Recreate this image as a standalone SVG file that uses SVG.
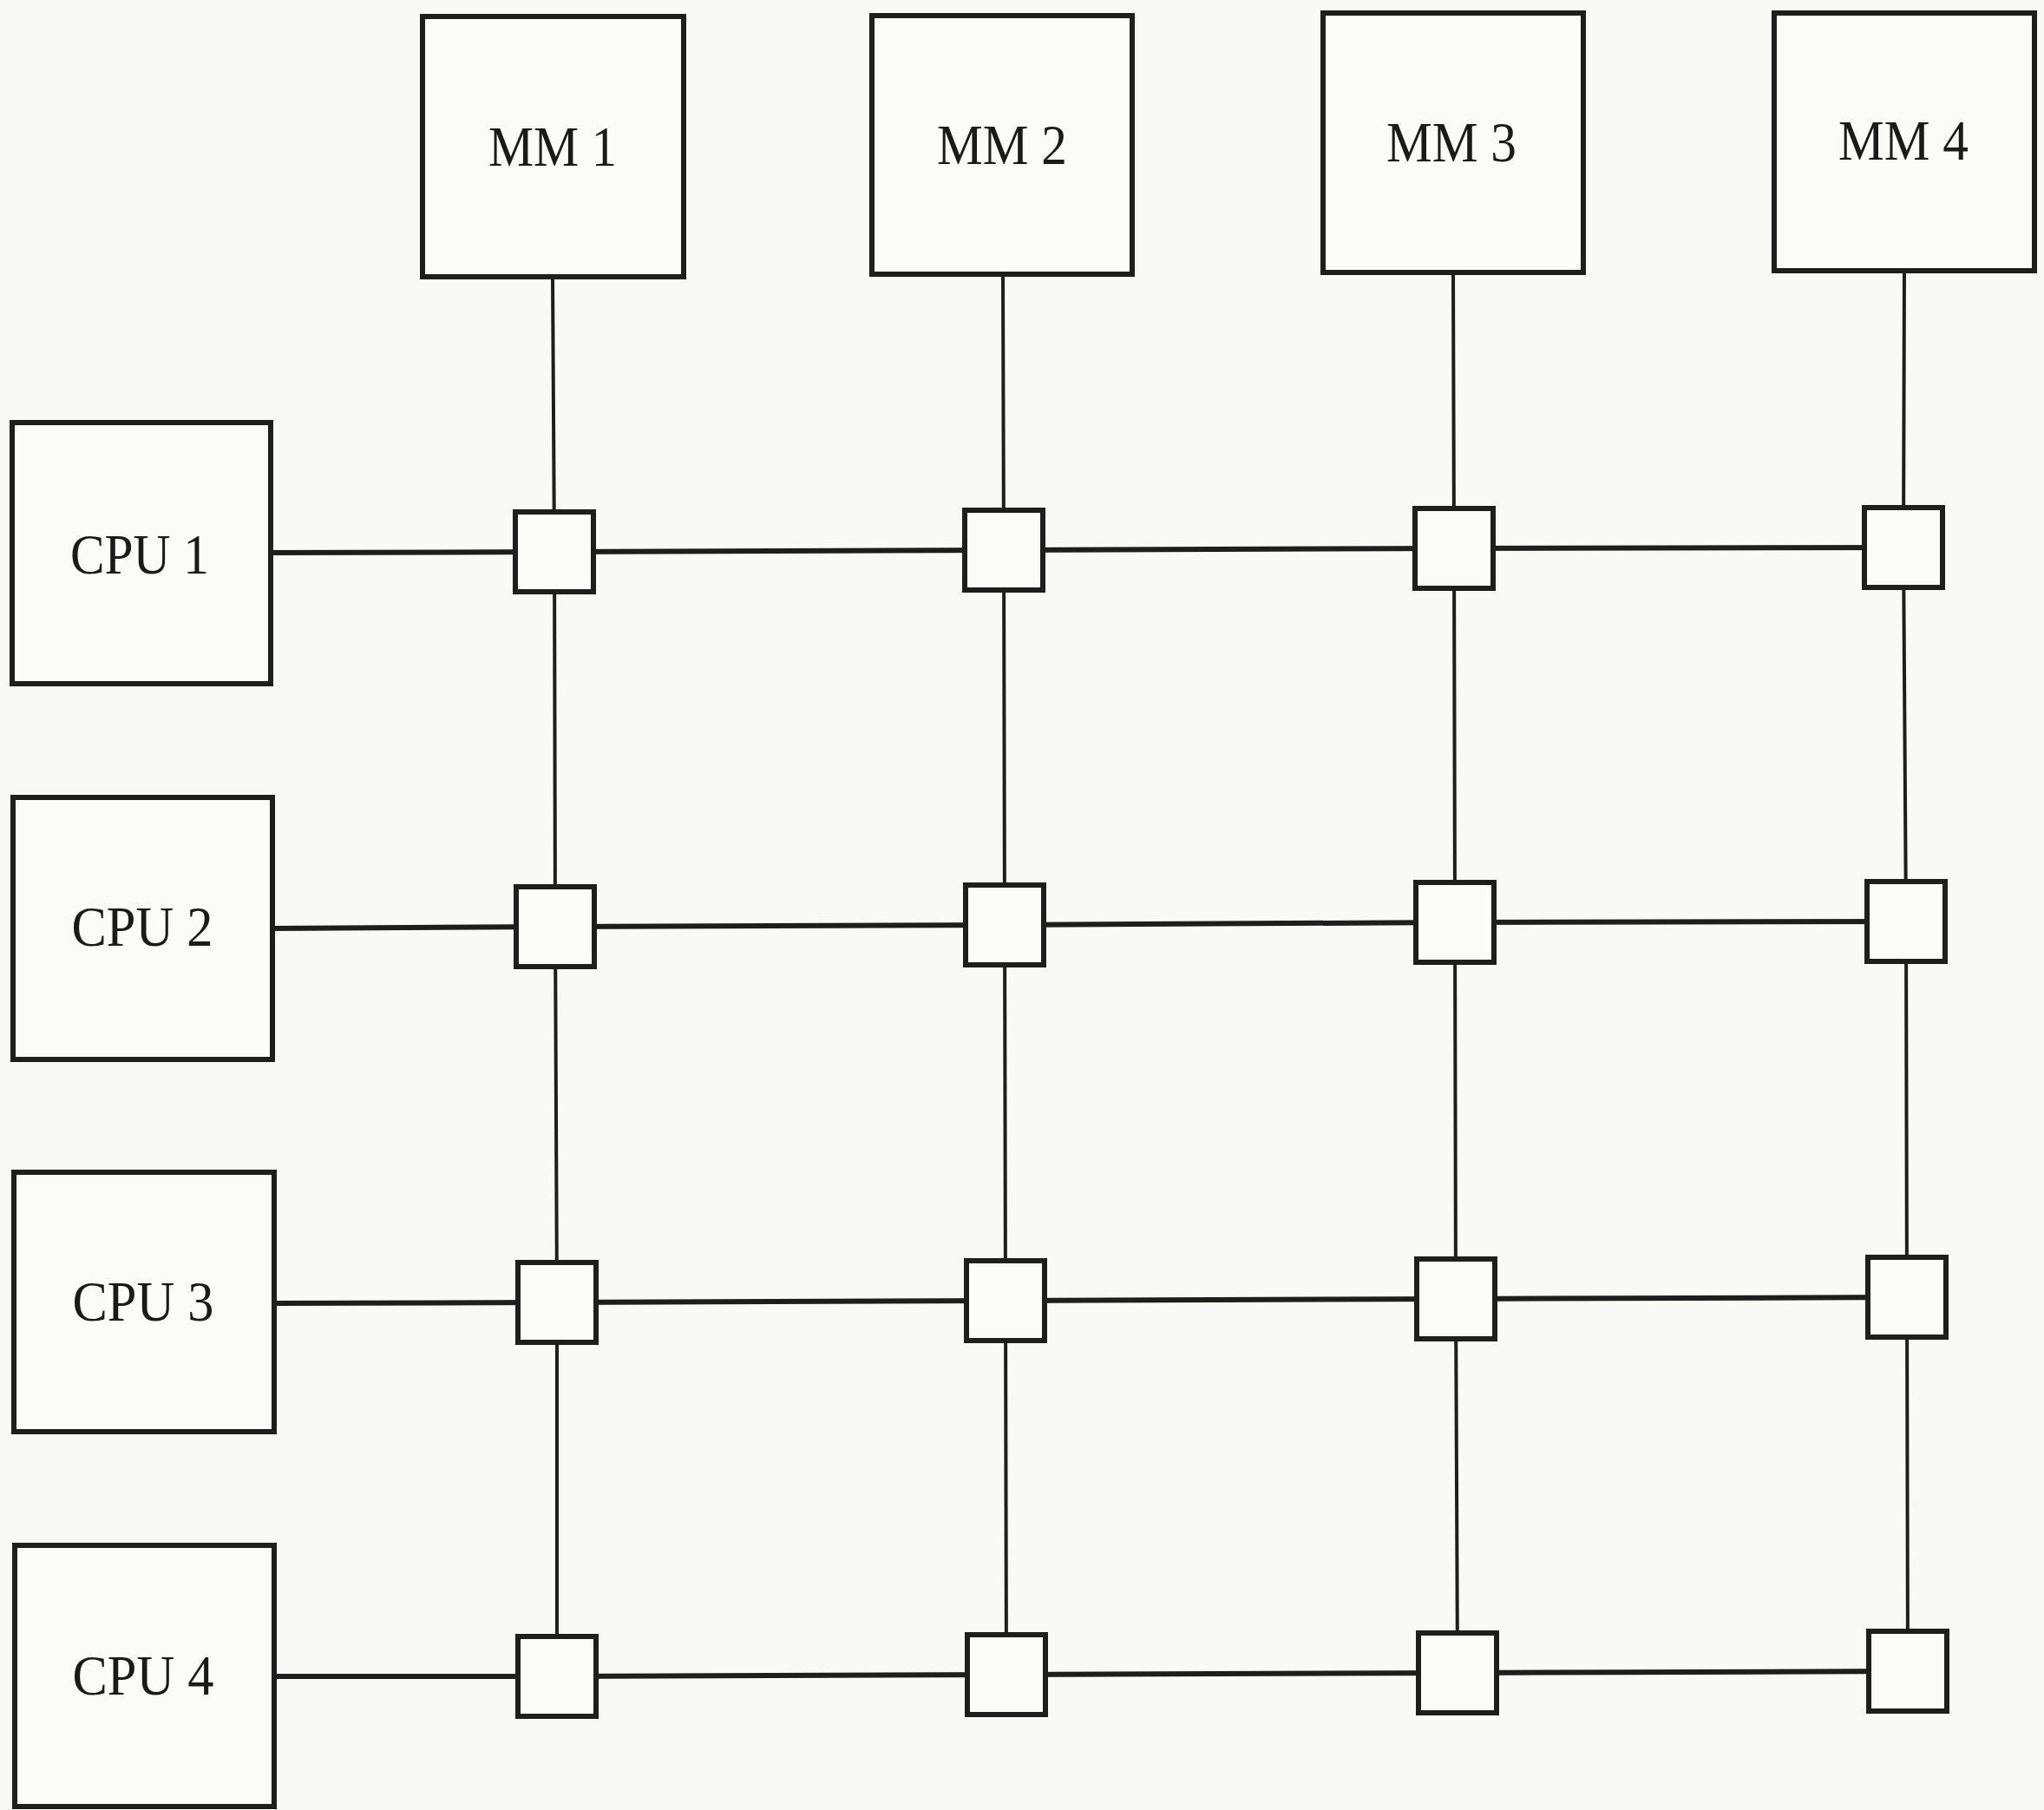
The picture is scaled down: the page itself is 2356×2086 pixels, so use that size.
<svg xmlns="http://www.w3.org/2000/svg" width="2356" height="2086" viewBox="0 0 2356 2086">
<style>
.bg{fill:#f9f9f7}
.box{fill:#fbfbf9;stroke:#1e1e1e;stroke-width:6}
.sw{fill:#fbfbf9;stroke:#1e1e1e;stroke-width:6}
.h{fill:none;stroke:#1e1e1e;stroke-width:6}
.v{fill:none;stroke:#1e1e1e;stroke-width:4}
.lbl{font-family:"Liberation Serif","Times New Roman",serif;font-size:66px;fill:#1a1a1a;text-anchor:middle}
</style>
<rect class="bg" x="0" y="0" width="2356" height="2086"/>
<g id="connectors">
<polyline class="v" points="637,319 639,636 640,1068 642,1501 642,1932"/>
<polyline class="v" points="1156,316 1157,634 1158,1066 1159,1499 1160,1930"/>
<polyline class="v" points="1675,314 1676,632 1677,1063 1678,1497 1680,1928"/>
<polyline class="v" points="2195,312 2194,631 2197,1062 2198,1495 2199,1926"/>
<polyline class="h" points="312,637 639,636 1157,634 1676,632 2194,631"/>
<polyline class="h" points="314,1070 640,1068 1158,1066 1677,1063 2197,1062"/>
<polyline class="h" points="316,1502 642,1501 1159,1499 1678,1497 2198,1495"/>
<polyline class="h" points="316,1932 642,1932 1160,1930 1680,1928 2199,1926"/>
</g>
<g id="mm1"><rect class="box" x="487" y="19" width="301" height="300"/><text class="lbl" x="637" y="191" textLength="148" lengthAdjust="spacingAndGlyphs">MM 1</text></g>
<g id="mm2"><rect class="box" x="1005" y="18" width="300" height="298"/><text class="lbl" x="1155" y="189" textLength="150" lengthAdjust="spacingAndGlyphs">MM 2</text></g>
<g id="mm3"><rect class="box" x="1525" y="15" width="300" height="299"/><text class="lbl" x="1673" y="186" textLength="150" lengthAdjust="spacingAndGlyphs">MM 3</text></g>
<g id="mm4"><rect class="box" x="2045" y="15" width="300" height="297"/><text class="lbl" x="2194" y="184" textLength="150" lengthAdjust="spacingAndGlyphs">MM 4</text></g>
<g id="cpu1"><rect class="box" x="14" y="487" width="298" height="301"/><text class="lbl" x="161" y="661" textLength="160" lengthAdjust="spacingAndGlyphs">CPU 1</text></g>
<g id="cpu2"><rect class="box" x="15" y="919" width="299" height="302"/><text class="lbl" x="164" y="1090" textLength="163" lengthAdjust="spacingAndGlyphs">CPU 2</text></g>
<g id="cpu3"><rect class="box" x="16" y="1351" width="300" height="299"/><text class="lbl" x="165" y="1522" textLength="163" lengthAdjust="spacingAndGlyphs">CPU 3</text></g>
<g id="cpu4"><rect class="box" x="17" y="1781" width="299" height="301"/><text class="lbl" x="165" y="1953" textLength="163" lengthAdjust="spacingAndGlyphs">CPU 4</text></g>
<g id="s11"><rect class="sw" x="594" y="590" width="90" height="92"/></g>
<g id="s12"><rect class="sw" x="1112" y="588" width="90" height="92"/></g>
<g id="s13"><rect class="sw" x="1631" y="586" width="90" height="92"/></g>
<g id="s14"><rect class="sw" x="2149" y="585" width="90" height="92"/></g>
<g id="s21"><rect class="sw" x="595" y="1022" width="90" height="92"/></g>
<g id="s22"><rect class="sw" x="1113" y="1020" width="90" height="92"/></g>
<g id="s23"><rect class="sw" x="1632" y="1017" width="90" height="92"/></g>
<g id="s24"><rect class="sw" x="2152" y="1016" width="90" height="92"/></g>
<g id="s31"><rect class="sw" x="597" y="1455" width="90" height="92"/></g>
<g id="s32"><rect class="sw" x="1114" y="1453" width="90" height="92"/></g>
<g id="s33"><rect class="sw" x="1633" y="1451" width="90" height="92"/></g>
<g id="s34"><rect class="sw" x="2153" y="1449" width="90" height="92"/></g>
<g id="s41"><rect class="sw" x="597" y="1886" width="90" height="92"/></g>
<g id="s42"><rect class="sw" x="1115" y="1884" width="90" height="92"/></g>
<g id="s43"><rect class="sw" x="1635" y="1882" width="90" height="92"/></g>
<g id="s44"><rect class="sw" x="2154" y="1880" width="90" height="92"/></g>
</svg>
